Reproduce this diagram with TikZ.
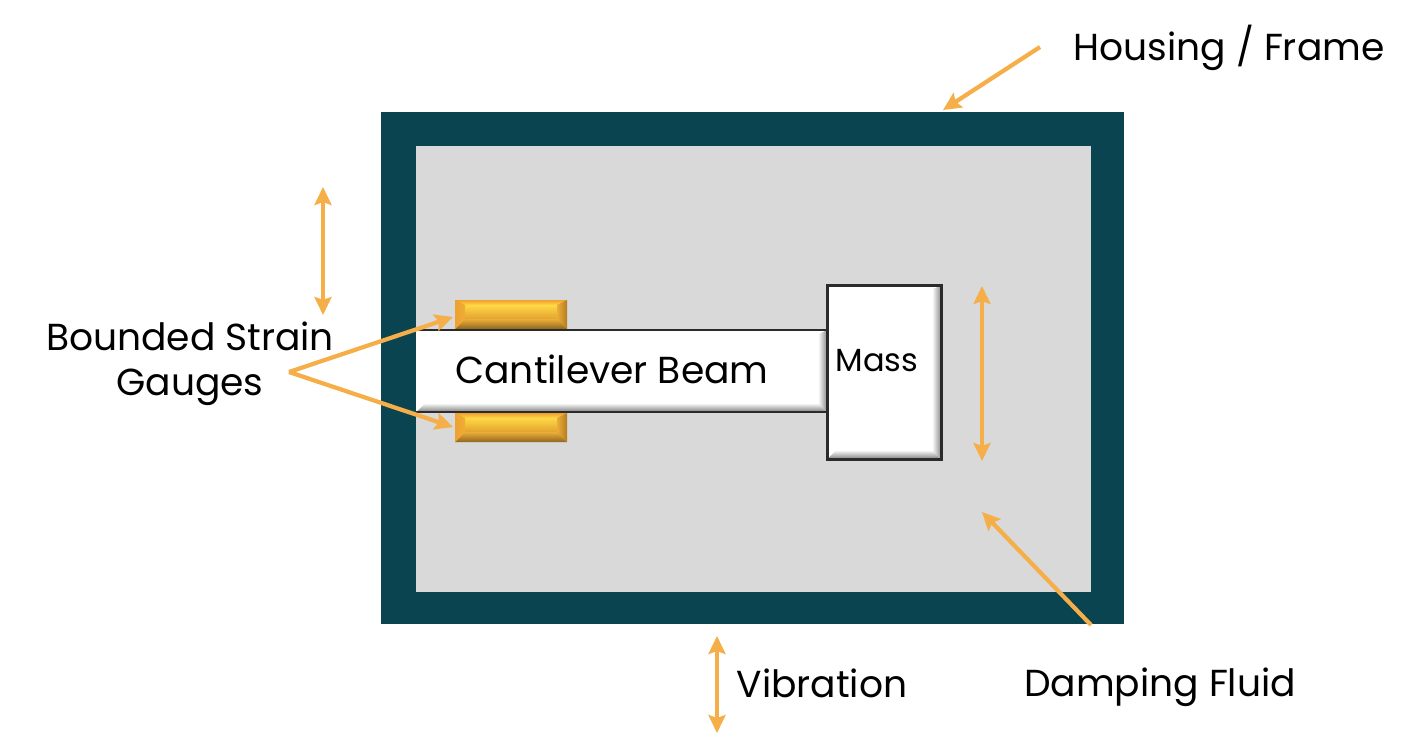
\documentclass[tikz,border=0pt]{standalone}
\usepackage{fontspec}
\setmainfont{Poppins}
\usetikzlibrary{arrows.meta}
\definecolor{teal}{HTML}{0B4451}
\definecolor{fluid}{HTML}{D9D9D9}
\definecolor{amber}{HTML}{F5AE48}
\definecolor{outl}{HTML}{2B2B2B}
\definecolor{gfacetop}{HTML}{FFD845}
\definecolor{gface}{HTML}{E3A22F}
\definecolor{gtop}{HTML}{EFA02E}
\definecolor{gdark}{HTML}{B27C22}
\definecolor{gbot}{HTML}{8F6620}
\definecolor{gmid}{HTML}{EDAE38}
\definecolor{bshade}{HTML}{8C8C8C}
\definecolor{bshadeb}{HTML}{808080}
\tikzset{
  x=1pt,y=-1pt,
  oneway/.style={draw=amber,line width=4.2pt,-{Stealth[length=18pt,width=17pt,inset=3pt]}},
  twoway/.style={draw=amber,line width=4.2pt,{Stealth[length=18pt,width=17pt,inset=3pt]}-{Stealth[length=18pt,width=17pt,inset=3pt]}},
  lbl/.style={font=\fontsize{37.6}{45}\selectfont,text=black,inner sep=0pt,align=center},
  box/.style={inner sep=0pt,outer sep=0pt,anchor=north west},
}
% \bevelbox{x0}{y0}{x1}{y1}{b}{outer light}{right dark}{bottom dark}{inner}; top bevel is b/2 deep and ends in \topinner
\newcommand{\bevelbox}[9]{%
  \begin{scope}\clip (#1,#2)--(#3,#2)--({#3-#5},{#2+#5/2})--({#1+#5},{#2+#5/2})--cycle;
    \shade[top color=#6,bottom color=\topinner] (#1,#2) rectangle (#3,{#2+#5/2});\end{scope}
  \begin{scope}\clip (#1,#4)--(#3,#4)--({#3-#5},{#4-#5})--({#1+#5},{#4-#5})--cycle;
    \shade[top color=#9,bottom color=#8] (#1,{#4-#5}) rectangle (#3,#4);\end{scope}
  \begin{scope}\clip (#1,#2)--({#1+#5},{#2+#5/2})--({#1+#5},{#4-#5})--(#1,#4)--cycle;
    \shade[left color=#6,right color=#9] (#1,#2) rectangle ({#1+#5},#4);\end{scope}
  \begin{scope}\clip (#3,#2)--({#3-#5},{#2+#5/2})--({#3-#5},{#4-#5})--(#3,#4)--cycle;
    \shade[left color=#9,right color=#7] ({#3-#5},#2) rectangle (#3,#4);\end{scope}
}
\begin{document}
\begin{tikzpicture}
\useasboundingbox (0,0) rectangle (1419,750);
\fill[white] (0,0) rectangle (1419,750);
% housing
\node[box,fill=teal,minimum width=743pt,minimum height=512pt] (housing) at (381,112) {};
\node[box,fill=fluid,minimum width=675pt,minimum height=446pt] (fluidbox) at (416,146) {};
% gauges
\def\topinner{gfacetop}
\node[box,fill=gface,minimum width=112pt,minimum height=29pt] (gaugeT) at (455,300) {};
\shade[top color=gfacetop,bottom color=gface] (465,305) rectangle (557,319);
\bevelbox{455}{300}{567}{329}{10}{gtop}{gdark}{gbot}{gmid}
\node[box,fill=gface,minimum width=112pt,minimum height=29pt] (gaugeB) at (455,413) {};
\shade[top color=gfacetop,bottom color=gface] (465,418) rectangle (557,432);
\bevelbox{455}{413}{567}{442}{10}{gtop}{gdark}{gbot}{gmid}
% beam
\def\topinner{white}
\node[box,fill=white,minimum width=411pt,minimum height=82pt] (beam) at (416,330) {};
\bevelbox{416}{330}{827}{412}{9}{white}{bshade}{bshadeb}{white}
\draw[outl,line width=2.6pt] (beam.north west)--(beam.north east) (beam.south west)--(beam.south east);
% mass
\node[box,fill=white,minimum width=114pt,minimum height=174pt] (mass) at (827,285) {};
\bevelbox{827}{285}{941}{459}{9}{white}{bshade}{bshadeb}{white}
\draw[outl,line width=3pt] (mass.north west) rectangle (mass.south east);
% labels
\node[lbl] (tHousing) at (1229,48) {Housing / Frame};
\node[lbl] (tGauges) at (190,364) {Bounded Strain\\Gauges};
\node[lbl] (tBeam) at (612,369) {Cantilever Beam};
\node[lbl,font=\fontsize{32}{38}\selectfont] (tMass) at (877,361) {Mass};
\node[lbl] (tVib) at (822,683) {Vibration};
\node[lbl] (tFluid) at (1160,687) {Damping Fluid};
% connector ends
\coordinate (hs) at (1040,47);
\coordinate (he) at (943,110);
\coordinate (gs) at (289,372);
\coordinate (g1) at (453,317);
\coordinate (g2) at (453,427);
\coordinate (ds) at (1091,625);
\coordinate (de) at (982,512);
\coordinate (v1) at (717,636);
\coordinate (v2) at (717,733);
\coordinate (l1) at (323,187);
\coordinate (l2) at (323,315);
\coordinate (m1) at (982,286);
\coordinate (m2) at (982,461);
\draw[oneway] (hs)--(he);
\draw[oneway] (gs)--(g1);
\draw[oneway] (gs)--(g2);
\draw[oneway] (ds)--(de);
\draw[twoway] (v1)--(v2);
\draw[twoway] (l1)--(l2);
\draw[twoway] (m1)--(m2);
\end{tikzpicture}
\end{document}
